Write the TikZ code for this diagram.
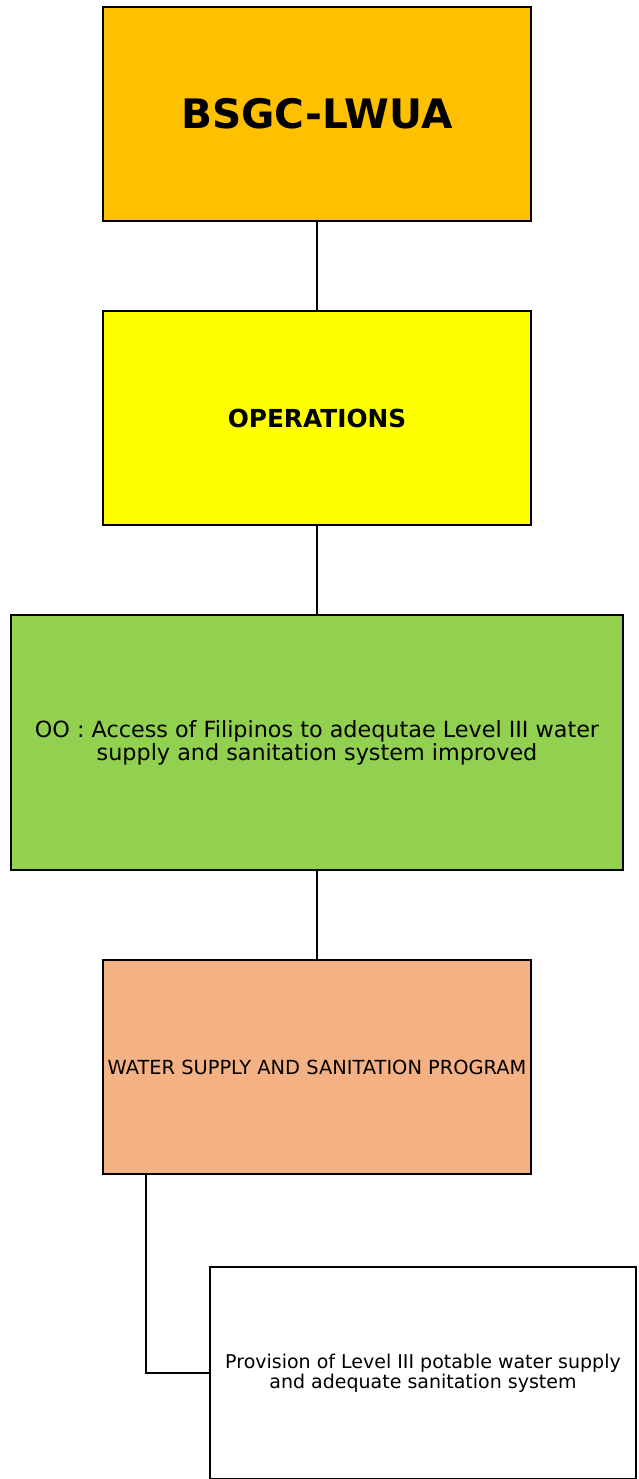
\documentclass[tikz,border=0pt]{standalone}
\usepackage{fontspec}
\setmainfont{DejaVu Sans}
\usepackage{xcolor}
\usetikzlibrary{positioning}
\definecolor{topgold}{HTML}{FFC000}
\definecolor{opsyellow}{HTML}{FFFF00}
\definecolor{oogreen}{HTML}{92D050}
\definecolor{progorange}{HTML}{F4B183}
\begin{document}
\begin{tikzpicture}[x=1pt, y=-1pt, node distance=88pt, box/.style={rectangle, draw, line width=2pt, minimum width=428pt, minimum height=214pt, align=center, inner sep=0pt}, link/.style={line width=2pt}]
\useasboundingbox (0,0) rectangle (638,1479);
\node[box, fill=topgold, font=\fontsize{40.6}{48}\selectfont\bfseries] (lwua) at (317,114) {BSGC-LWUA};
\node[box, fill=opsyellow, font=\fontsize{24.8}{28}\selectfont\bfseries, below=of lwua] (ops) {OPERATIONS};
\node[box, fill=oogreen, minimum width=612pt, minimum height=255pt, font=\fontsize{22.3}{23}\selectfont, below=of ops] (oo) {OO : Access of Filipinos to adequtae Level III water\\supply and sanitation system improved};
\node[box, fill=progorange, font=\fontsize{19.4}{22}\selectfont, below=of oo] (wsp) {WATER SUPPLY AND SANITATION PROGRAM};
\node[box, fill=white, minimum width=426pt, minimum height=212pt, font=\fontsize{19}{20}\selectfont, anchor=north west] (prov) at ([xshift=107pt, yshift=-91pt]wsp.south west) {Provision of Level III potable water supply\\and adequate sanitation system};
\draw[link] (lwua) -- (ops); \draw[link] (ops) -- (oo); \draw[link] (oo) -- (wsp);
\draw[link] ([xshift=44pt]wsp.south west) |- (prov.west);
\end{tikzpicture}
\end{document}
